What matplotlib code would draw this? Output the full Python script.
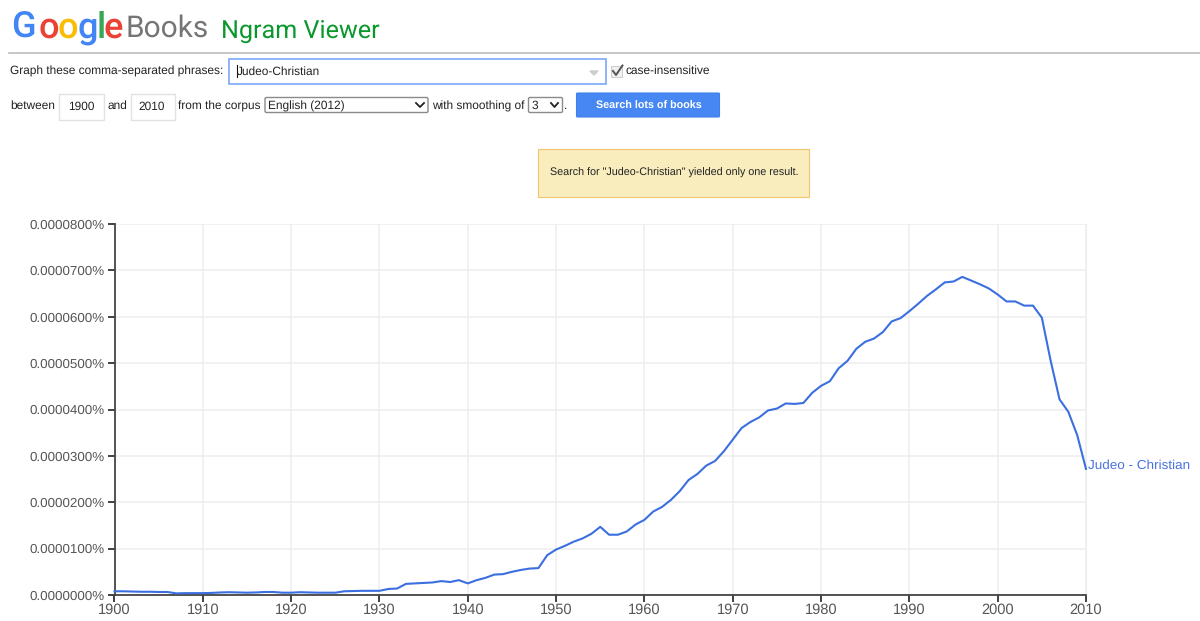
import numpy as np
import matplotlib
matplotlib.use("Agg")
import matplotlib.pyplot as plt
from matplotlib.patches import Rectangle, FancyBboxPatch

# ============================================================
# DATA (frequency in units of 0.0000001%)
# ============================================================

years = np.arange(1900, 2011)
freq = [
    8, 8, 7.5, 7, 7, 6.5, 6.5, 3.5, 4, 4,
    4, 4.5, 5.5, 6, 5.5, 5, 5.5, 6.5, 6.5, 5,
    5, 6, 5.5, 5, 5, 5, 8, 8.5, 9, 9,
    9, 13, 14, 24, 25, 26, 27, 30, 28, 32,
    25, 32, 37, 44, 45, 50, 54, 57, 58, 86,
    98, 106, 115, 122, 132, 147, 130, 130, 137, 152,
    162, 180, 190, 205, 224, 248, 261, 279, 289, 310,
    335, 360, 373, 383, 398, 402, 413, 412, 414, 436,
    451, 461, 489, 505, 531, 546, 553, 567, 590, 597,
    612, 628, 645, 659, 674, 676, 686, 678, 670, 661,
    648, 633, 633, 624, 624, 598, 505, 422, 395, 345,
    272,
]
y_ticks = [0, 100, 200, 300, 400, 500, 600, 700, 800]
y_labels = ["0.0000000%", "0.0000100%", "0.0000200%", "0.0000300%", "0.0000400%",
            "0.0000500%", "0.0000600%", "0.0000700%", "0.0000800%"]
x_ticks = list(range(1900, 2011, 10))
logo_letters = ["G", "o", "o", "g", "l", "e"]
logo_colors = ["#4285f4", "#ea4335", "#fbbc05", "#4285f4", "#34a853", "#ea4335"]
logo_x = [11, 38.5, 58, 77.5, 96.5, 104]

W, H = 1200, 621
plt.rcParams["font.family"] = ["Liberation Sans", "DejaVu Sans"]
plt.rcParams["text.hinting"] = "none"
fig = plt.figure(figsize=(W / 100, H / 100), dpi=100, facecolor="white")

# ============================================================
# PAGE FURNITURE (pixel coordinates)
# ============================================================

ui = fig.add_axes([0, 0, 1, 1])
ui.set_xlim(0, W)
ui.set_ylim(H, 0)
ui.axis("off")

for letter, color, x in zip(logo_letters, logo_colors, logo_x):
    ui.text(x, 37.5, letter, color=color, fontsize=26, family="Roboto", fontweight="medium",
            va="baseline")
ui.text(125.5, 37, "Books", color="#757575", fontsize=21.5, family="Roboto", va="baseline")
ui.text(221, 38, "Ngram Viewer", color="#0a982c", fontsize=18.1, family="Roboto", va="baseline")
ui.plot([9, 1200], [52.5, 52.5], color="#bdbdbd", lw=1.2)

TXT = "#222222"
FS = 8.56
ui.text(10, 71.5, "Graph these comma-separated phrases:", color=TXT, fontsize=FS, va="center")
ui.add_patch(Rectangle((229, 59), 377, 25, fc="white", ec="#7aa7f7", lw=1.2))
ui.plot([236.5, 236.5], [65, 77], color="#111111", lw=0.8)
ui.text(237, 72, "Judeo-Christian", color=TXT, fontsize=FS, va="center")
ui.fill([590, 598, 594], [71, 71, 75], color="#cccccc")

ui.add_patch(Rectangle((611, 66), 11, 11, fc="#f1f1f1", ec="#cfcfcf", lw=0.8))
ui.plot([613, 616, 622.5], [71, 75, 65.5], color="#555555", lw=1.4)
ui.text(625, 71, "case-insensitive", color=TXT, fontsize=FS, va="center")

ui.text(10, 106, "between", color=TXT, fontsize=FS, va="center")
ui.add_patch(Rectangle((58.5, 93.5), 45, 26, fc="white", ec="#e2e2e2", lw=1))
ui.text(81, 106.5, "1900", color=TXT, fontsize=FS, va="center", ha="center")
ui.text(107, 106, "and", color=TXT, fontsize=FS, va="center")
ui.add_patch(Rectangle((130.5, 93.5), 44, 26, fc="white", ec="#e2e2e2", lw=1))
ui.text(152, 106.5, "2010", color=TXT, fontsize=FS, va="center", ha="center")
ui.text(178, 106, "from the corpus", color=TXT, fontsize=FS, va="center")

ui.add_patch(FancyBboxPatch((265, 97.5), 163, 15, boxstyle="round,pad=0,rounding_size=1.5",
                            fc="white", ec="#8a8a8a", lw=1))
ui.text(268.5, 106, "English (2012)", color=TXT, fontsize=FS, va="center")
ui.plot([416, 420, 424], [103, 107, 103], color="#222222", lw=1.3)
ui.text(432, 106, "with smoothing of", color=TXT, fontsize=FS, va="center")
ui.add_patch(FancyBboxPatch((528.5, 97.5), 34, 15, boxstyle="round,pad=0,rounding_size=1.5",
                            fc="white", ec="#8a8a8a", lw=1))
ui.text(532, 106, "3", color=TXT, fontsize=FS, va="center")
ui.plot([551, 554.5, 558], [103, 107, 103], color="#222222", lw=1.3)
ui.text(563.5, 106, ".", color=TXT, fontsize=FS, va="center")

ui.add_patch(FancyBboxPatch((576.5, 93), 143, 24, boxstyle="round,pad=0,rounding_size=1",
                            fc="#4787f3", ec="#3f7fe8", lw=0.8))
ui.text(648.5, 106, "Search lots of books", color="white", fontsize=7.73, fontweight="bold",
        va="center", ha="center")

ui.add_patch(Rectangle((538, 148.5), 271, 48, fc="#f9edbe", ec="#f0c36d", lw=0.8))
ui.text(549.5, 173, 'Search for "Judeo-Christian" yielded only one result.', color=TXT,
        fontsize=7.73, va="center")

# ============================================================
# CHART
# ============================================================

x0, x1 = 114.5, 1086
y0, y1 = 595, 224
ax = fig.add_axes([x0 / W, 1 - y0 / H, (x1 - x0) / W, (y0 - y1) / H])
ax.patch.set_alpha(0)
ax.plot(years, freq, color="#3b6fe0", lw=1.5, solid_joinstyle="round", clip_on=False, zorder=5)
ax.set_xlim(1900, 2010)
ax.set_ylim(0, 800)
ax.set_xticks(x_ticks)
ax.set_yticks(y_ticks)
ax.set_yticklabels(y_labels)
ax.grid(True, color="#eeeeee", lw=1.1)
ax.set_axisbelow(True)
ax.tick_params(axis="both", color="#333333", width=1.3, length=5, labelcolor="#555555", pad=2)
ax.tick_params(axis="y", labelsize=9.6)
ax.tick_params(axis="x", labelsize=10.5, pad=1)
ax.spines["top"].set_visible(False)
ax.spines["right"].set_color("#eeeeee")
ax.spines["left"].set_color("#444444")
ax.spines["bottom"].set_color("#444444")
ax.spines["left"].set_linewidth(1.3)
ax.spines["bottom"].set_linewidth(1.3)

ax.annotate("Judeo - Christian", xy=(2010, 272), xytext=(2, 3), textcoords="offset pixels",
            color="#4a72e0", fontsize=9.7, va="center", annotation_clip=False)

fig.savefig("out.png", dpi=100)
